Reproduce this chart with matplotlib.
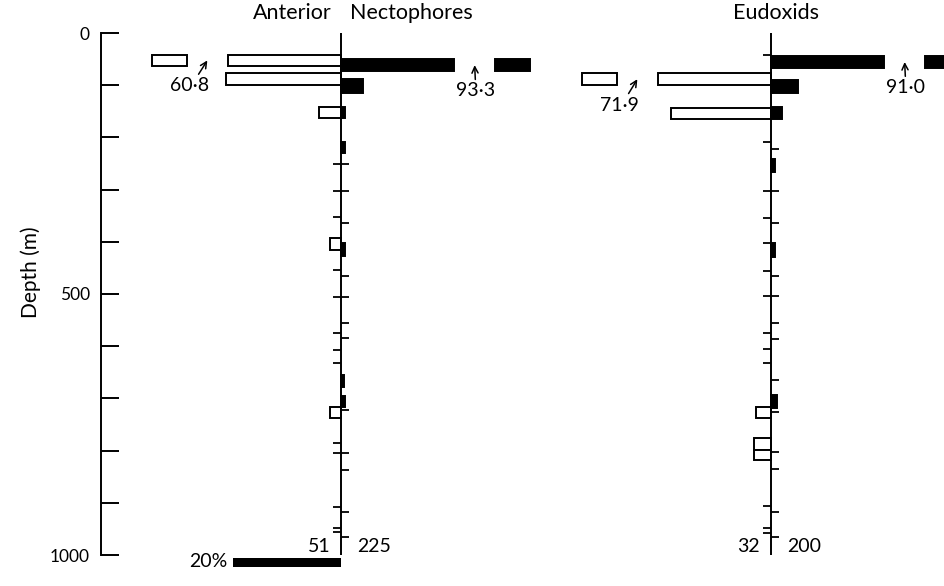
import matplotlib
matplotlib.use("Agg")
import matplotlib.pyplot as plt

plt.rcParams['font.family'] = ['Lato', 'DejaVu Sans']

# Percentage of catch by depth interval (m).
# Day hauls are drawn as open bars to the left, night hauls as solid bars to the right.
nect_day_top = [42, 77, 142, 393, 716]
nect_day_bot = [63, 100, 163, 416, 738]
nect_day_pct = [60.8, 21.3, 4.1, 2.0, 2.0]
nect_night_top = [50, 88, 142, 209, 402, 655, 695]
nect_night_bot = [73, 115, 163, 230, 427, 678, 716]
nect_night_pct = [93.3, 4.0, 0.8, 0.7, 0.8, 0.6, 0.7]

eudo_day_top = [77, 143, 716, 776, 799]
eudo_day_bot = [100, 165, 738, 799, 818]
eudo_day_pct = [71.9, 18.5, 2.8, 3.1, 3.1]
eudo_night_top = [44, 90, 142, 241, 402, 693]
eudo_night_bot = [67, 115, 165, 266, 429, 718]
eudo_night_pct = [91.0, 5.0, 2.0, 0.8, 0.7, 1.2]

# sampling depths marked along each profile
nect_day_marks = [251, 303, 352, 454, 505, 575, 607, 632, 785, 805, 908, 948, 956]
nect_night_marks = [251, 303, 364, 465, 505, 555, 585, 722, 805, 837, 917, 965]
eudo_day_marks = [42, 209, 303, 354, 403, 456, 504, 574, 606, 632, 906, 948, 957]
eudo_night_marks = [223, 303, 364, 466, 504, 556, 586, 665, 726, 803, 835, 918, 966]

nect_n = (51, 225)
eudo_n = (32, 200)

# layout (pixels of a 945 x 586 figure)
W, H = 945, 586
Y0, PX_PER_M = 33, 0.522
PX_PER_PCT = 5.4
BREAK_PCT, STUB_FROM, STUB_TO = 21, 28.5, 35
TICK = 1.5
LW = 1.4

fig = plt.figure(figsize=(W / 100, H / 100), dpi=100)
ylim = ((H - Y0) / PX_PER_M, -Y0 / PX_PER_M)


def panel(left_px, right_px, axis_px):
    ax = fig.add_axes([left_px / W, 0, (right_px - left_px) / W, 1])
    ax.set_xlim((left_px - axis_px) / PX_PER_PCT, (right_px - axis_px) / PX_PER_PCT)
    ax.set_ylim(*ylim)
    ax.axis('off')
    return ax


def bars(ax, tops, bots, pcts, side, filled):
    fc = 'black' if filled else 'white'
    for t, b, p in zip(tops, bots, pcts):
        h = b - t
        if p > STUB_TO:
            # off-scale value: cut bar with a short stub beyond the break
            ax.barh(t, side * BREAK_PCT, height=h, align='edge', color=fc,
                    edgecolor='black', linewidth=LW, clip_on=False)
            ax.barh(t, side * (STUB_TO - STUB_FROM), left=side * STUB_FROM, height=h,
                    align='edge', color=fc, edgecolor='black', linewidth=LW, clip_on=False)
            head_x = side * (BREAK_PCT + STUB_FROM) / 2
            lx = -28 if side < 0 else 25
            ly = b + 38
            ax.text(lx, ly, f'{p:.1f}'.replace('.', '\u00b7'), ha='center', va='center',
                    fontsize=14)
            ax.annotate('', xy=(head_x, (t + b) / 2), xytext=((lx + head_x) / 2, ly - 22),
                        arrowprops=dict(arrowstyle='->,head_length=0.45,head_width=0.22',
                                        lw=1.1, color='black', shrinkA=0, shrinkB=0))
        else:
            ax.barh(t, side * p, height=h, align='edge', color=fc,
                    edgecolor='black', linewidth=LW, clip_on=False)


def profile(ax, day, night, day_marks, night_marks, n):
    ax.vlines(0, 0, 1000, color='black', lw=LW)
    ax.hlines(day_marks, -TICK, 0, color='black', lw=1.3)
    ax.hlines(night_marks, 0, TICK, color='black', lw=1.3)
    bars(ax, *day, side=-1, filled=False)
    bars(ax, *night, side=1, filled=True)
    ax.text(-2.0, 983, str(n[0]), ha='right', va='center', fontsize=14)
    ax.text(2.9, 983, str(n[1]), ha='left', va='center', fontsize=14)


ax1 = panel(130, 560, 341)
profile(ax1, (nect_day_top, nect_day_bot, nect_day_pct),
        (nect_night_top, nect_night_bot, nect_night_pct),
        nect_day_marks, nect_night_marks, nect_n)
ax1.text(-1.8, -38, 'Anterior', ha='right', va='center', fontsize=15.5)
ax1.text(1.6, -38, 'Nectophores', ha='left', va='center', fontsize=15.5)

# 20 % scale bar
ax1.barh(1006, -20, height=17, align='edge', color='black', clip_on=False)
ax1.text(-21, 1012, '20%', ha='right', va='center', fontsize=14)

ax2 = panel(560, 945, 771)
profile(ax2, (eudo_day_top, eudo_day_bot, eudo_day_pct),
        (eudo_night_top, eudo_night_bot, eudo_night_pct),
        eudo_day_marks, eudo_night_marks, eudo_n)
ax2.text(0.9, -38, 'Eudoxids', ha='center', va='center', fontsize=15.5)

# depth scale
ax0 = fig.add_axes([101 / W, 0, 0.05, 1])
ax0.set_ylim(*ylim)
for s in ('top', 'right', 'bottom'):
    ax0.spines[s].set_visible(False)
ax0.spines['left'].set_bounds(0, 1000)
ax0.spines['left'].set_linewidth(LW)
ax0.set_xticks([])
ax0.set_yticks(range(0, 1001, 100))
ax0.set_yticklabels(['0', '', '', '', '', '500', '', '', '', '', '1000'], fontsize=12.5)
ax0.tick_params(axis='y', direction='in', length=13, width=LW, pad=8)
ax0.patch.set_visible(False)
fig.text(31 / W, 1 - 272 / H, 'Depth (m)', rotation=90, ha='center', va='center', fontsize=15)

fig.savefig('out.png', dpi=100)
